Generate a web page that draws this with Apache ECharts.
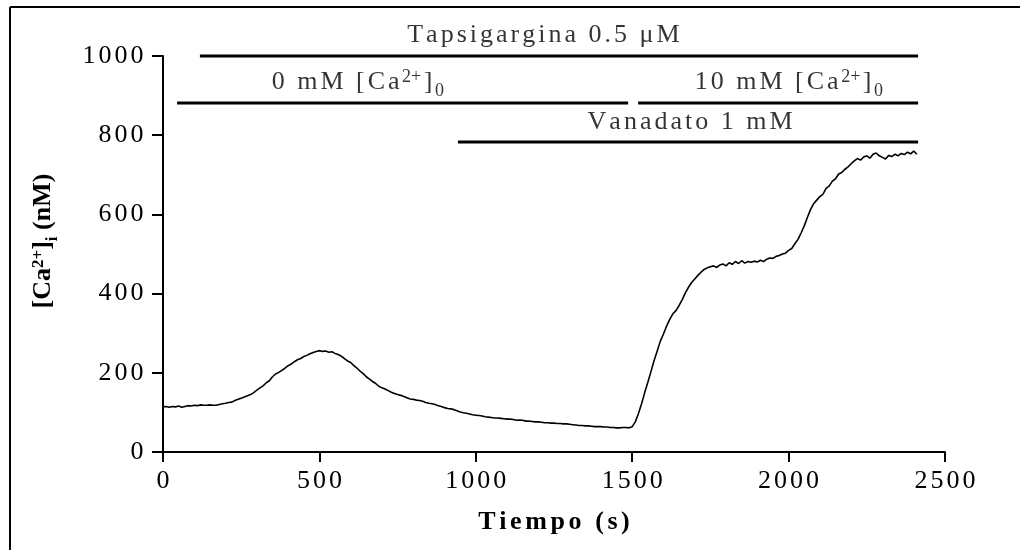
<!DOCTYPE html>
<html>
<head>
<meta charset="utf-8">
<script src="https://cdn.jsdelivr.net/npm/echarts@6/dist/echarts.min.js"></script>
<style>html,body{margin:0;padding:0;background:#fff;}#c{width:1020px;height:550px;}</style>
</head>
<body>
<div id="c"></div>
<script>
// ---- data ----
const pasoTiempo = 10; // s between samples
const calcio = [
114,115,113,115,114,116,113,115,117,116,
118,117,119,118,118,119,118,118,120,122,
123,125,126,130,133,136,139,142,145,150,
156,162,167,175,180,190,197,201,206,212,
218,222,228,233,236,241,244,248,251,254,
256,254,255,252,253,249,246,242,236,230,
226,218,212,204,198,190,184,178,173,166,
162,159,155,151,148,145,143,140,137,134,
133,131,130,128,125,123,122,120,117,115,
112,110,109,107,104,101,99,98,96,94,
93,92,91,89,88,87,86,86,85,84,
83,83,82,80,81,80,78,78,77,76,
76,75,74,74,73,73,72,72,71,71,
70,69,68,67,67,66,66,65,64,64,
64,63,63,62,62,61,61,62,62,61,
64,76,97,122,150,176,203,231,255,280,
298,318,335,349,357,370,385,402,416,428,
437,446,454,461,465,468,470,466,472,475,
470,478,474,481,476,483,477,481,479,482,
480,484,481,487,490,489,494,496,500,502,
509,514,526,537,553,571,592,612,627,636,
645,651,666,672,684,690,702,706,714,720,
728,735,741,737,745,748,742,752,755,748,
744,740,749,746,752,748,754,751,757,753,
760,752
];
const xTicks = [0, 500, 1000, 1500, 2000, 2500];
const yTicks = [0, 200, 400, 600, 800, 1000];

// treatment bars
const barraInicio = [118, 45, 1519, 943];
const barraFin    = [2414, 1487, 2414, 2414];
const barraNivel  = [1000, 881, 881, 783];
// treatment labels
const textoT = [1216, 622, 2000, 1685];
const textoC = [1048, 930, 930, 827];

const SERIF = '"Liberation Serif", "Times New Roman", serif';
function sp(str, style) {
  return str.split('').map(c => '{' + style + '|' + c + '}').join('');
}
const textos = [
  sp('Tapsigargina 0.5 \u03bcM', 'a'),
  sp('0 mM [Ca', 'a') + '{sup|2+}' + sp(']', 'a') + '{sub|0}',
  sp('10 mM [Ca', 'a') + '{sup|2+}' + sp(']', 'a') + '{sub|0}',
  sp('Vanadato 1 mM', 'a')
];
const richAnn = {
  a:   {fontFamily: SERIF, fontSize: 26, lineHeight: 30, padding: [0, 1.5, 0, 1.5], verticalAlign: 'top', color: '#000'},
  sup: {fontFamily: SERIF, fontSize: 18, lineHeight: 18, padding: [0, 1, 0, 1], verticalAlign: 'top', color: '#000'},
  sub: {fontFamily: SERIF, fontSize: 18, lineHeight: 18, padding: [14, 1, 0, 1], verticalAlign: 'top', color: '#000'}
};

const chart = echarts.init(document.getElementById('c'), null, {renderer: 'canvas'});

const barSeries = barraInicio.map((s, i) => ({
  type: 'line', silent: true, clip: false, symbol: 'none', animation: false,
  data: [[s, barraNivel[i]], [barraFin[i], barraNivel[i]]],
  lineStyle: {color: '#000', width: 3}
}));

chart.setOption({
  animation: false,
  backgroundColor: '#fff',
  grid: {left: 163, right: 75, top: 56, bottom: 98, containLabel: false},
  graphic: [
    {type: 'line', shape: {x1: 10, y1: 7, x2: 10, y2: 550}, style: {stroke: '#000', lineWidth: 2}},
    {type: 'line', shape: {x1: 10, y1: 7, x2: 1020, y2: 7}, style: {stroke: '#000', lineWidth: 2}}
  ],
  xAxis: {
    type: 'value', min: 0, max: 2500, interval: 500,
    splitLine: {show: false},
    axisLine: {onZero: false, lineStyle: {color: '#000', width: 2}},
    axisTick: {length: 10, lineStyle: {color: '#000', width: 2}},
    axisLabel: {
      margin: 14,
      formatter: v => xTicks.includes(v) ? sp(String(v), 't') : '',
      rich: {t: {fontFamily: SERIF, fontSize: 26, lineHeight: 30, padding: [0, 1.5, 0, 1.5], color: '#000'}}
    },
    name: sp('Tiempo (s)', 'n'),
    nameLocation: 'middle', nameGap: 55,
    nameTextStyle: {rich: {n: {fontFamily: SERIF, fontWeight: 'bold', fontSize: 26, lineHeight: 30, padding: [0, 1.8, 0, 1.8], color: '#000'}}}
  },
  yAxis: {
    type: 'value', min: 0, max: 1000, interval: 200,
    splitLine: {show: false},
    axisLine: {onZero: false, lineStyle: {color: '#000', width: 2}},
    axisTick: {length: 11, lineStyle: {color: '#000', width: 2}},
    axisLabel: {
      margin: 18,
      formatter: v => yTicks.includes(v) ? sp(String(v), 't') : '',
      rich: {t: {fontFamily: SERIF, fontSize: 26, lineHeight: 30, padding: [0, 1.5, 0, 1.5], color: '#000'}}
    },
    name: '{b0|[Ca}{bsup|2+}{b|]}{bsub|i}{b| (nM)}',
    nameLocation: 'middle', nameRotate: 90, nameGap: 103,
    nameTextStyle: {rich: {
      b0:   {fontFamily: SERIF, fontWeight: 'bold', fontSize: 26, lineHeight: 30, padding: [0, 0, 0, 26], verticalAlign: 'top', color: '#000'},
      b:    {fontFamily: SERIF, fontWeight: 'bold', fontSize: 26, lineHeight: 30, verticalAlign: 'top', color: '#000'},
      bsup: {fontFamily: SERIF, fontWeight: 'bold', fontSize: 17, lineHeight: 17, padding: [0, 0, 0, 0], verticalAlign: 'top', color: '#000'},
      bsub: {fontFamily: SERIF, fontWeight: 'bold', fontSize: 17, lineHeight: 17, padding: [14, 0, 0, 0], verticalAlign: 'top', color: '#000'}
    }}
  },
  series: [
    {
      type: 'line', symbol: 'none', silent: true, clip: false,
      data: calcio.map((v, i) => [i * pasoTiempo, v]),
      lineStyle: {color: '#000', width: 1.6}
    },
    ...barSeries,
    {
      type: 'scatter', symbolSize: 0, silent: true, clip: false,
      data: textoT.map((t, i) => [t, textoC[i]]),
      label: {
        show: true, position: 'inside',
        formatter: p => textos[p.dataIndex],
        rich: richAnn
      }
    }
  ]
});
</script>
</body>
</html>
